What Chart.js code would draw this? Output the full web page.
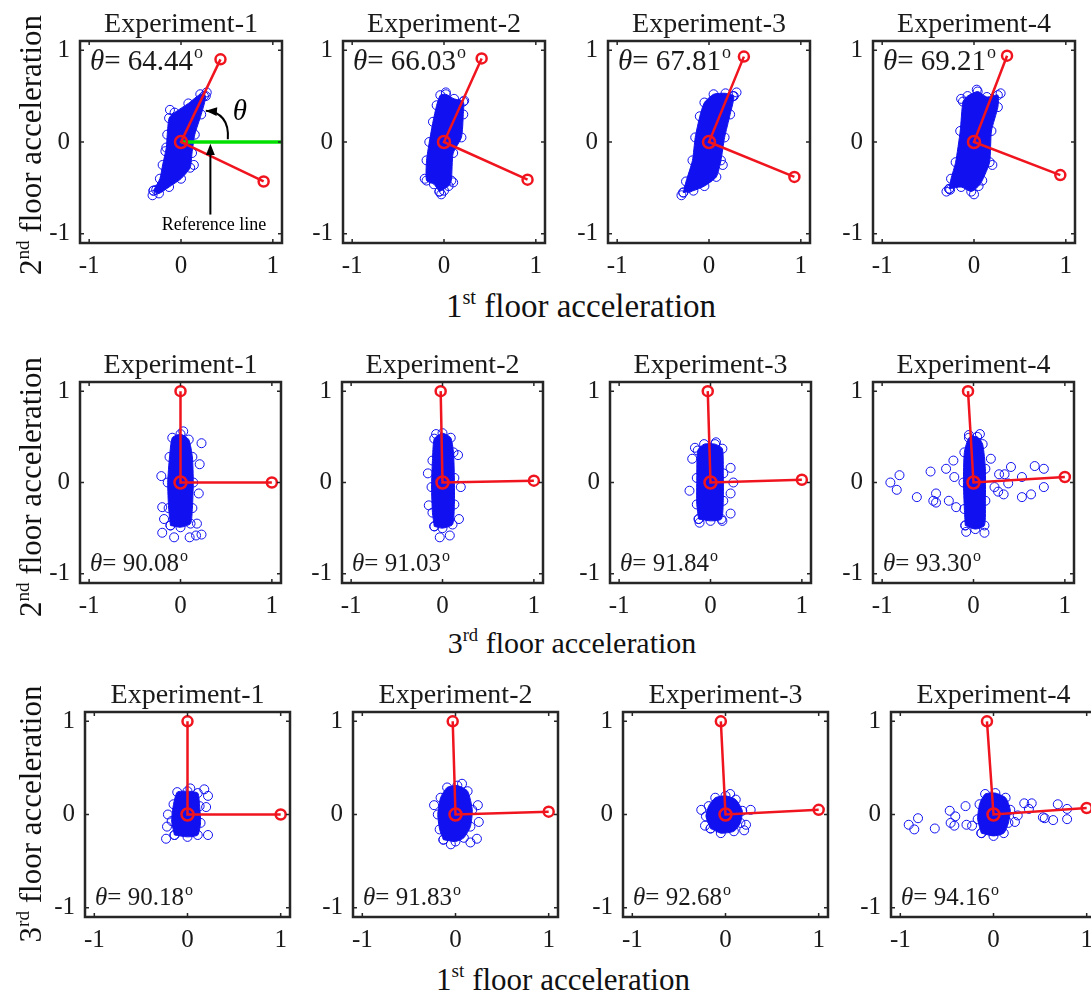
<!DOCTYPE html>
<html>
<head>
<meta charset="utf-8">
<script src="https://cdn.jsdelivr.net/npm/chart.js@4.4.0/dist/chart.umd.min.js"></script>
<style>
  html, body { margin: 0; padding: 0; background: #fff; }
  body { width: 1091px; height: 997px; position: relative; overflow: hidden; font-family: "Liberation Serif", serif; color: #111; }
  canvas { position: absolute; }
  .lab { position: absolute; white-space: nowrap; line-height: 1; }
  .lab sup { font-size: 0.62em; position: relative; top: -0.65em; vertical-align: baseline; line-height: 0; }
</style>
</head>
<body>
<script>
// ---- data ----
const tickVals = [-1, 0, 1];
const experiments = ['Experiment-1', 'Experiment-2', 'Experiment-3', 'Experiment-4'];

const row1Angles = ['64.44', '66.03', '67.81', '69.21'];
const row2Angles = ['90.08', '91.03', '91.84', '93.30'];
const row3Angles = ['90.18', '91.83', '92.68', '94.16'];

// red principal directions (end points of the two red segments)
const row1AxisA = [[0.43, 0.90], [0.41, 0.91], [0.38, 0.93], [0.36, 0.94]];
const row1AxisB = [[0.90, -0.43], [0.91, -0.41], [0.93, -0.38], [0.94, -0.36]];
const row2AxisA = [[0.00, 1.00], [-0.02, 1.00], [-0.03, 1.00], [-0.06, 1.00]];
const row2AxisB = [[1.00, 0.00], [1.00, 0.02], [1.00, 0.03], [1.00, 0.06]];
const row3AxisA = [[0.00, 1.00], [-0.03, 1.00], [-0.05, 1.00], [-0.07, 1.00]];
const row3AxisB = [[1.00, 0.00], [1.00, 0.03], [1.00, 0.05], [1.00, 0.07]];

// outline of the dense cloud of samples
const row1Cores = [
  [[-0.30,-0.53],[-0.24,-0.56],[-0.13,-0.49],[0.00,-0.40],[0.10,-0.28],[0.12,-0.12],[0.15,0.08],[0.22,0.30],[0.27,0.50],[0.21,0.52],[0.08,0.42],[-0.07,0.32],[-0.13,0.26],[-0.15,0.08],[-0.16,-0.06],[-0.20,-0.25],[-0.23,-0.40]],
  [[-0.05,-0.54],[0.05,-0.48],[0.08,-0.42],[0.10,-0.12],[0.19,0.05],[0.21,0.30],[0.21,0.44],[0.11,0.47],[0.02,0.52],[-0.04,0.51],[-0.08,0.40],[-0.12,0.22],[-0.16,0.00],[-0.19,-0.20],[-0.19,-0.42],[-0.11,-0.46]],
  [[-0.28,-0.55],[-0.17,-0.53],[-0.05,-0.48],[0.08,-0.38],[0.13,-0.20],[0.17,0.05],[0.23,0.30],[0.27,0.50],[0.18,0.53],[0.05,0.52],[-0.05,0.43],[-0.10,0.28],[-0.15,0.05],[-0.18,-0.20],[-0.25,-0.43]],
  [[-0.27,-0.51],[-0.14,-0.49],[-0.03,-0.54],[0.05,-0.48],[0.09,-0.42],[0.17,-0.22],[0.19,0.12],[0.26,0.38],[0.26,0.51],[0.14,0.49],[0.04,0.55],[-0.07,0.50],[-0.12,0.44],[-0.15,0.12],[-0.20,-0.22],[-0.25,-0.40]]
];
const row2Cores = [
  [[-0.11,-0.47],[0.00,-0.49],[0.11,-0.45],[0.13,-0.28],[0.14,0.00],[0.13,0.28],[0.09,0.47],[0.00,0.53],[-0.09,0.49],[-0.12,0.28],[-0.14,0.00],[-0.13,-0.28]],
  [[-0.09,-0.48],[0.00,-0.50],[0.11,-0.46],[0.13,-0.24],[0.13,0.05],[0.12,0.33],[0.09,0.49],[0.00,0.54],[-0.09,0.48],[-0.11,0.24],[-0.12,-0.05],[-0.11,-0.33]],
  [[-0.13,-0.40],[0.00,-0.42],[0.12,-0.40],[0.14,-0.20],[0.14,0.10],[0.13,0.37],[0.05,0.42],[-0.07,0.42],[-0.14,0.35],[-0.15,0.05],[-0.15,-0.24]],
  [[-0.09,-0.47],[0.02,-0.51],[0.12,-0.47],[0.13,-0.20],[0.13,0.15],[0.10,0.42],[0.04,0.50],[-0.05,0.49],[-0.10,0.33],[-0.11,0.00],[-0.10,-0.29]]
];
const row3Cores = [
  [[-0.14,-0.22],[0.00,-0.24],[0.11,-0.22],[0.14,-0.09],[0.13,0.09],[0.11,0.23],[0.00,0.25],[-0.11,0.24],[-0.15,0.11],[-0.17,-0.07]],
  [[-0.13,-0.27],[0.00,-0.29],[0.09,-0.25],[0.16,-0.13],[0.18,0.05],[0.13,0.25],[0.02,0.31],[-0.09,0.29],[-0.16,0.18],[-0.19,0.00],[-0.17,-0.16]],
  [[-0.16,-0.15],[-0.05,-0.20],[0.09,-0.18],[0.16,-0.09],[0.18,0.04],[0.11,0.16],[0.00,0.20],[-0.11,0.18],[-0.18,0.09],[-0.21,-0.02]],
  [[-0.13,-0.20],[0.00,-0.23],[0.11,-0.20],[0.16,-0.09],[0.18,0.05],[0.13,0.18],[0.02,0.23],[-0.09,0.22],[-0.15,0.11],[-0.17,-0.05]]
];

// scattered samples outside the dense cloud
const row1Spread = [
  [[-0.31,-0.58],[-0.27,-0.52],[0.28,0.54],[0.25,0.50],[-0.12,0.35],[0.14,-0.25],[-0.17,-0.10]],
  [[-0.03,-0.57],[0.00,-0.53],[0.02,0.54],[0.22,0.45],[0.10,-0.44],[-0.21,-0.40]],
  [[-0.30,-0.58],[0.30,0.54],[0.26,0.50],[-0.22,-0.50],[0.15,-0.25]],
  [[-0.30,-0.54],[-0.26,-0.52],[0.00,-0.57],[0.29,0.53],[0.03,0.57],[-0.14,0.47],[0.20,-0.25]]
];
const row2Spread = [
  [[-0.20,-0.55],[-0.07,-0.60],[0.10,-0.60],[0.23,-0.57],[0.17,-0.58],[0.23,0.43],[0.21,0.20],[0.20,-0.12],[-0.20,-0.27],[-0.21,0.07],[0.18,-0.45],[-0.18,-0.40],[0.03,0.56]],
  [[-0.03,-0.60],[0.08,-0.58],[0.18,-0.40],[0.20,-0.05],[-0.16,0.10],[0.17,0.30],[-0.15,-0.25],[-0.07,0.53]],
  [[-0.23,-0.09],[-0.20,0.26],[0.22,0.16],[0.25,0.00],[0.22,-0.12],[0.22,-0.34],[0.13,-0.42],[-0.12,-0.44],[-0.17,0.38],[0.06,0.44]],
  [[-0.91,0.00],[-0.81,0.08],[-0.84,-0.08],[-0.62,-0.16],[-0.47,0.12],[-0.44,-0.20],[-0.41,-0.12],[-0.41,-0.22],[-0.30,0.15],[-0.27,-0.20],[-0.22,0.24],[-0.21,0.06],[-0.19,-0.27],
   [0.28,0.09],[0.34,0.09],[0.41,0.17],[0.38,-0.01],[0.53,0.06],[0.53,-0.16],[0.63,-0.13],[0.67,0.18],[0.77,0.15],[0.77,-0.05],[0.23,-0.05],[0.27,-0.10],[0.33,-0.13],[0.19,0.26],
   [0.07,0.53],[-0.08,-0.54],[0.12,-0.55],[-0.05,0.52]]
];
const row3Spread = [
  [[-0.23,-0.26],[0.22,-0.22],[0.22,0.20],[0.20,0.08],[-0.21,0.00],[0.18,0.27],[-0.22,-0.13],[0.03,0.28]],
  [[0.23,-0.26],[0.25,-0.08],[0.24,0.10],[-0.23,0.10],[0.16,-0.30],[0.07,0.33],[-0.05,-0.32]],
  [[0.27,0.05],[0.22,-0.11],[-0.26,0.05],[0.20,-0.17],[-0.22,-0.12],[0.05,0.22]],
  [[-0.91,-0.11],[-0.85,-0.16],[-0.81,-0.04],[-0.63,-0.15],[-0.47,0.04],[-0.46,-0.09],[-0.41,-0.02],[-0.42,-0.12],[-0.30,0.09],[-0.29,-0.11],[-0.23,-0.12],
   [0.33,0.12],[0.41,0.12],[0.38,0.06],[0.53,-0.03],[0.55,-0.04],[0.64,-0.06],[0.69,0.11],[0.79,0.06],[0.79,-0.05],[0.26,-0.01],[0.23,-0.08]]
];

const rowXNames = [['1', 'st'], ['3', 'rd'], ['1', 'st']];
const rowYNames = [['2', 'nd'], ['2', 'nd'], ['3', 'rd']];

// ---- layout ----
const rowTops = [41, 382, 712];
const boxSizes = [202, 201, 205];
const colLefts = [[80, 343, 608, 873], [80, 342, 610, 873], [85, 353, 623, 891]];
const PADL = 55, PADT = 45, PADR = 12, PADB = 40;
const BLUE = '#1010f0', RED = '#f0141e', INK = '#1a1a1a';

const rows = [
  { angles: row1Angles, axA: row1AxisA, axB: row1AxisB, cores: row1Cores, spread: row1Spread, thetaAt: 'top', thetaSize: 29 },
  { angles: row2Angles, axA: row2AxisA, axB: row2AxisB, cores: row2Cores, spread: row2Spread, thetaAt: 'bottom', thetaSize: 25 },
  { angles: row3Angles, axA: row3AxisA, axB: row3AxisB, cores: row3Cores, spread: row3Spread, thetaAt: 'bottom', thetaSize: 25 }
];

const pt = ([x, y]) => ({ x, y });

function arrowHead(ctx, x, y, ang, len) {
  ctx.beginPath();
  ctx.moveTo(x, y);
  ctx.lineTo(x - len * Math.cos(ang - 0.38), y - len * Math.sin(ang - 0.38));
  ctx.lineTo(x - len * Math.cos(ang + 0.38), y - len * Math.sin(ang + 0.38));
  ctx.closePath();
  ctx.fill();
}

const panelDecor = {
  id: 'panelDecor',
  afterDatasetsDraw(chart, args, o) {
    const { ctx, chartArea: a, scales: { x, y } } = chart;
    ctx.save();
    // reference-line annotation (first panel only)
    if (o.note) {
      const P = (vx, vy) => [x.getPixelForValue(vx), y.getPixelForValue(vy)];
      ctx.strokeStyle = '#000'; ctx.fillStyle = '#000'; ctx.lineWidth = 2;
      const [sx, sy] = P(0.51, 0.03), [cx, cy] = P(0.53, 0.32), [ex, ey] = P(0.27, 0.34);
      ctx.beginPath(); ctx.moveTo(sx, sy); ctx.quadraticCurveTo(cx, cy, ex, ey); ctx.stroke();
      arrowHead(ctx, ex, ey, Math.atan2(ey - cy, ex - cx), 12);
      const [vx0, vy0] = P(0.32, -0.79), [vx1, vy1] = P(0.32, -0.02);
      ctx.beginPath(); ctx.moveTo(vx0, vy0); ctx.lineTo(vx1, vy1 + 8); ctx.stroke();
      arrowHead(ctx, vx1, vy1, -Math.PI / 2, 12);
      ctx.font = 'italic 29px "Liberation Serif"';
      ctx.textAlign = 'center'; ctx.textBaseline = 'middle';
      const [tx, ty] = P(0.64, 0.32);
      ctx.fillText('θ', tx, ty);
      ctx.font = '18px "Liberation Serif"';
      ctx.textBaseline = 'alphabetic';
      const [rx, ry] = P(0.36, -0.96);
      ctx.fillText('Reference line', rx, ry);
    }
    // box and inward ticks
    ctx.strokeStyle = '#262626'; ctx.lineWidth = 2.5;
    ctx.strokeRect(a.left, a.top, a.right - a.left, a.bottom - a.top);
    ctx.lineWidth = 1.5;
    tickVals.forEach(v => {
      const px = x.getPixelForValue(v), py = y.getPixelForValue(v);
      ctx.beginPath();
      ctx.moveTo(px, a.bottom); ctx.lineTo(px, a.bottom - 4);
      ctx.moveTo(px, a.top); ctx.lineTo(px, a.top + 4);
      ctx.moveTo(a.left, py); ctx.lineTo(a.left + 4, py);
      ctx.moveTo(a.right, py); ctx.lineTo(a.right - 4, py);
      ctx.stroke();
    });
    // title
    ctx.fillStyle = INK;
    ctx.font = '28px "Liberation Serif"';
    ctx.textAlign = 'center'; ctx.textBaseline = 'alphabetic';
    ctx.fillText(o.title, (a.left + a.right) / 2, a.top - 9);
    // theta value
    const fs = o.thetaSize;
    const x0 = a.left + 10;
    const base = o.thetaAt === 'top' ? a.top + 29 : a.bottom - 12;
    ctx.textAlign = 'left';
    ctx.font = `italic ${fs}px "Liberation Serif"`;
    ctx.fillText('θ', x0, base);
    let xx = x0 + ctx.measureText('θ').width;
    ctx.font = `${fs}px "Liberation Serif"`;
    const s = '= ' + o.angle;
    ctx.fillText(s, xx, base);
    xx += ctx.measureText(s).width + 1;
    ctx.font = `${Math.round(fs * 0.62)}px "Liberation Serif"`;
    ctx.fillText('o', xx, base - fs * 0.42);
    ctx.restore();
  }
};

function axisOpts(dir) {
  return {
    type: 'linear', min: -1.1, max: 1.1,
    grid: { display: false, drawTicks: false },
    border: { display: false },
    afterBuildTicks: s => { s.ticks = tickVals.map(v => ({ value: v })); },
    afterFit: s => { if (dir === 'x') s.height = PADB; else s.width = PADL; },
    ticks: {
      font: { family: 'Liberation Serif', size: 25 }, color: INK,
      padding: dir === 'x' ? 8 : 10, maxRotation: 0, autoSkip: false,
      callback: v => String(v)
    }
  };
}

rows.forEach((row, r) => {
  const size = boxSizes[r];
  colLefts[r].forEach((left, c) => {
    const cv = document.createElement('canvas');
    const W = PADL + size + PADR, H = PADT + size + PADB;
    cv.width = W; cv.height = H;
    cv.style.width = W + 'px'; cv.style.height = H + 'px';
    cv.style.left = (left - PADL) + 'px';
    cv.style.top = (rowTops[r] - PADT) + 'px';
    document.body.appendChild(cv);

    const core = row.cores[c].map(pt);
    core.push(core[0]);
    const datasets = [
      { // principal directions
        data: [pt(row.axA[c]), { x: 0, y: 0 }, pt(row.axB[c])],
        showLine: true, borderColor: RED, borderWidth: 2.5,
        pointRadius: [5, 6, 5], pointBorderWidth: 2.5,
        pointBorderColor: RED, pointBackgroundColor: 'rgba(0,0,0,0)'
      }
    ];
    if (r === 0 && c === 0) {
      datasets.push({
        data: [{ x: 0, y: 0 }, { x: 1.1, y: 0 }],
        showLine: true, borderColor: '#00e000', borderWidth: 3.5, pointRadius: 0
      });
    }
    datasets.push({
      data: row.spread[c].map(pt),
      pointRadius: 4.5, pointBorderWidth: 1, pointBorderColor: BLUE,
      pointBackgroundColor: 'rgba(0,0,0,0)'
    });
    datasets.push({
      data: core, showLine: true, fill: 'shape', tension: 0.2,
      borderColor: BLUE, borderWidth: 1, backgroundColor: BLUE,
      pointRadius: 4.5, pointBorderWidth: 1, pointBorderColor: BLUE,
      pointBackgroundColor: 'rgba(0,0,0,0)'
    });

    new Chart(cv, {
      type: 'scatter',
      data: { datasets },
      options: {
        responsive: false, animation: false, devicePixelRatio: 1, events: [],
        layout: { padding: { top: PADT, right: PADR, left: 0, bottom: 0 } },
        plugins: {
          legend: { display: false }, tooltip: { enabled: false },
          panelDecor: {
            title: experiments[c], angle: row.angles[c],
            thetaAt: row.thetaAt, thetaSize: row.thetaSize, note: r === 0 && c === 0
          }
        },
        scales: { x: axisOpts('x'), y: axisOpts('y') }
      },
      plugins: [panelDecor]
    });
  });
});

// ---- shared axis labels ----
const xLabelPos = [[581, 318, 33], [572, 653, 30], [563, 990, 31]];
const yLabelPos = [[30, 145, 31], [30, 487, 31], [30, 814, 31]];
function makeLabel(name, html) {
  const d = document.createElement('div');
  d.className = 'lab';
  d.innerHTML = name[0] + '<sup>' + name[1] + '</sup>' + html;
  document.body.appendChild(d);
  return d;
}
rowXNames.forEach((n, r) => {
  const [cx, base, fs] = xLabelPos[r];
  const d = makeLabel(n, ' floor acceleration');
  d.style.fontSize = fs + 'px';
  d.style.left = cx + 'px';
  d.style.top = (base - 0.84 * fs) + 'px';
  d.style.transform = 'translateX(-50%)';
});
rowYNames.forEach((n, r) => {
  const [cx, cy, fs] = yLabelPos[r];
  const d = makeLabel(n, ' floor acceleration');
  d.style.fontSize = fs + 'px';
  d.style.left = cx + 'px';
  d.style.top = cy + 'px';
  d.style.transform = 'translate(-50%,-50%) rotate(-90deg)';
});
</script>
</body>
</html>
